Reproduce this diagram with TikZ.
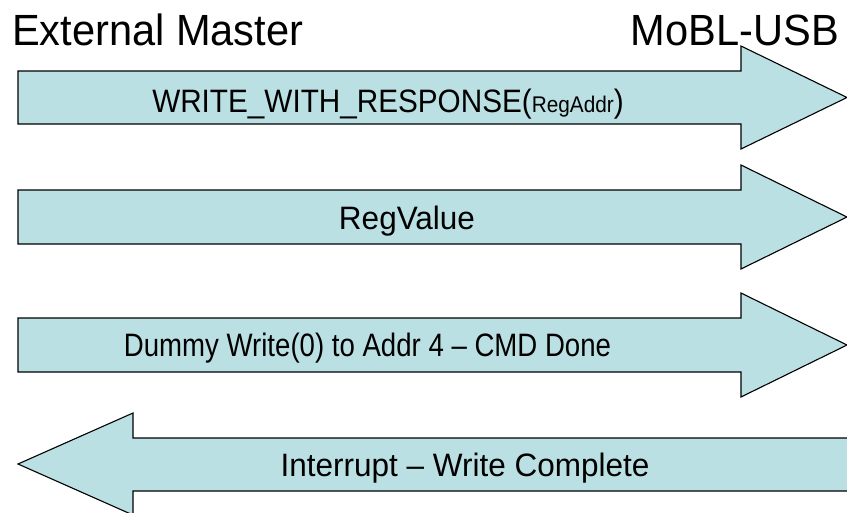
\documentclass[tikz,border=0pt]{standalone}
\usepackage{fontspec}
\setmainfont{Liberation Sans}
\definecolor{arrowfill}{RGB}{186,224,227}
\tikzset{
  bigarrow/.style={draw=black, fill=arrowfill, line width=1.1pt, line join=miter},
  heading/.style={inner sep=0pt, font=\fontsize{42}{48}\selectfont},
  label/.style={inner sep=0pt, anchor=base, font=\fontsize{30}{34}\selectfont}
}
\begin{document}
\begin{tikzpicture}[x=1pt, y=-1pt]
\useasboundingbox (0,0) rectangle (847,512);
\clip (0,0) rectangle (847,512);
% arrow 1
\draw[bigarrow] (18,71) -- (741,71) -- (741,46) -- (847,97.5) -- (741,149) -- (741,124) -- (18,124) -- cycle;
% arrow 2
\draw[bigarrow] (18,190) -- (741,190) -- (741,165) -- (847,217) -- (741,269) -- (741,244) -- (18,244) -- cycle;
% arrow 3
\draw[bigarrow] (18,318) -- (741,318) -- (741,293) -- (847,345) -- (741,397) -- (741,372) -- (18,372) -- cycle;
% arrow 4 (pointing left)
\draw[bigarrow] (870,438) -- (133,438) -- (133,413) -- (18,464) -- (133,515) -- (133,491) -- (870,491) -- cycle;
% headings
\node[heading, anchor=base west] (master) at (12,45) {\scalebox{0.99}[1.04]{External Master}};
\node[heading, anchor=base east] (mobl) at (839,45) {\scalebox{0.99}[1.04]{MoBL-USB}};
% labels
\node[label] (l1) at (388,112) {\scalebox{0.99}[1.08]{WRITE\_WITH\_RESPONSE({\fontsize{21}{24}\selectfont RegAddr})}};
\node[label] (l2) at (407,229) {\scalebox{1.05}[1.08]{RegValue}};
\node[label] (l3) at (367.5,356) {\scalebox{0.92}[1.08]{Dummy Write(0) to Addr 4 -- CMD Done}};
\node[label] (l4) at (465,476) {\scalebox{1.05}[1.08]{Interrupt -- Write Complete}};
\end{tikzpicture}
\end{document}
